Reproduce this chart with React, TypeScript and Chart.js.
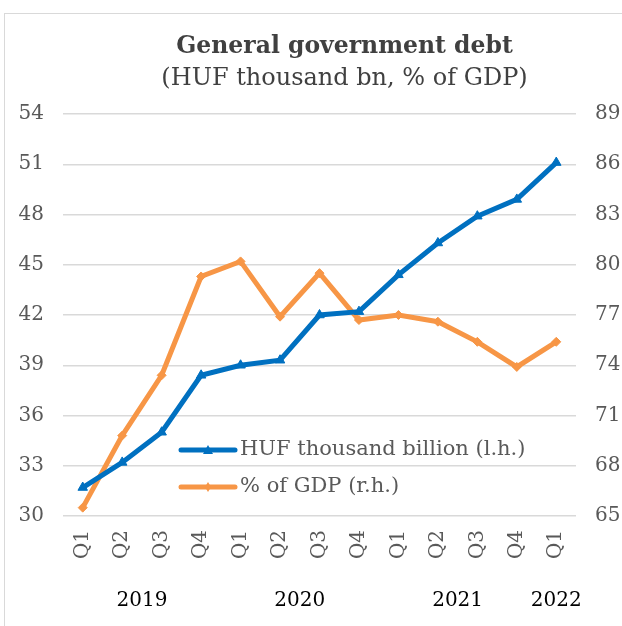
import React, { useEffect, useRef } from "react";
import { Chart, registerables } from "chart.js";

Chart.register(...registerables);

const quarters = ["Q1", "Q2", "Q3", "Q4", "Q1", "Q2", "Q3", "Q4", "Q1", "Q2", "Q3", "Q4", "Q1"];
const years = ["2019", "2020", "2021", "2022"];
const yearSpans = [[0, 3], [4, 7], [8, 11], [12, 12]];
const hufDebt = [31.7, 33.2, 35.0, 38.4, 39.0, 39.3, 42.0, 42.2, 44.4, 46.3, 47.9, 48.9, 51.1];
const gdpShare = [65.5, 69.8, 73.4, 79.3, 80.2, 76.9, 79.5, 76.7, 77.0, 76.6, 75.4, 73.9, 75.4];
const seriesLabels = ["HUF thousand billion (l.h.)", "% of GDP (r.h.)"];
const titleText = "General government debt";
const subtitleText = "(HUF thousand bn, % of GDP)";

const BLUE = "#0070C0";
const ORANGE = "#F79646";
const GRID = "#d9d9d9";
const TICK = "#595959";
const FONT = "'DejaVu Serif', serif";

const overlayPlugin = {
  id: "overlay",
  afterDraw(chart: any) {
    const ctx = chart.ctx;
    const ca = chart.chartArea;
    const xs = chart.scales.x;
    ctx.save();
    const cx = (ca.left + ca.right) / 2 + 25;
    ctx.textAlign = "center";
    ctx.textBaseline = "middle";
    ctx.fillStyle = "#404040";
    ctx.font = "bold 23.5px " + FONT;
    ctx.fillText(titleText, cx, 47);
    ctx.font = "24px " + FONT;
    ctx.fillText(subtitleText, cx, 79);
    ctx.fillStyle = "#000000";
    ctx.font = "20px " + FONT;
    years.forEach((y, i) => {
      const [a, b] = yearSpans[i];
      const x = (xs.getPixelForValue(a) + xs.getPixelForValue(b)) / 2;
      ctx.fillText(y, x, 601);
    });
    ctx.restore();
  },
  afterDatasetsDraw(chart: any) {
    const ctx = chart.ctx;
    const ca = chart.chartArea;
    ctx.save();
    const lx0 = ca.left + 118;
    const lx1 = lx0 + 54;
    const ys = [ca.top + 336, ca.top + 373];
    chart.data.datasets.forEach((ds: any, i: number) => {
      const y = ys[i];
      ctx.strokeStyle = ds.borderColor;
      ctx.lineWidth = 5;
      ctx.lineCap = "round";
      ctx.beginPath();
      ctx.moveTo(lx0, y);
      ctx.lineTo(lx1, y);
      ctx.stroke();
      ctx.fillStyle = ds.borderColor;
      const mx = (lx0 + lx1) / 2;
      ctx.beginPath();
      if (i === 0) {
        ctx.moveTo(mx, y - 5);
        ctx.lineTo(mx + 5, y + 4);
        ctx.lineTo(mx - 5, y + 4);
      } else {
        ctx.moveTo(mx, y - 5);
        ctx.lineTo(mx + 3, y);
        ctx.lineTo(mx, y + 5);
        ctx.lineTo(mx - 3, y);
      }
      ctx.closePath();
      ctx.fill();
      ctx.fillStyle = TICK;
      ctx.font = "21px " + FONT;
      ctx.textAlign = "left";
      ctx.textBaseline = "middle";
      ctx.fillText(ds.label, lx1 + 5, y);
    });
    ctx.restore();
  },
};

export default function App() {
  const ref = useRef<HTMLCanvasElement>(null);
  useEffect(() => {
    document.body.style.margin = "0";
    const chart = new Chart(ref.current!, {
      type: "line",
      data: {
        labels: quarters,
        datasets: [
          {
            label: seriesLabels[0],
            data: hufDebt,
            yAxisID: "y",
            borderColor: BLUE,
            backgroundColor: BLUE,
            borderWidth: 5,
            pointStyle: "triangle",
            pointRadius: 5.5,
            pointHoverRadius: 5.5,
            pointBorderWidth: 1,
            tension: 0,
            order: 1,
          },
          {
            label: seriesLabels[1],
            data: gdpShare,
            yAxisID: "y1",
            borderColor: ORANGE,
            backgroundColor: ORANGE,
            borderWidth: 5,
            pointStyle: "rectRot",
            pointRadius: 4.5,
            pointHoverRadius: 4.5,
            pointBorderWidth: 1,
            tension: 0,
            order: 2,
          },
        ],
      },
      options: {
        responsive: false,
        animation: false,
        layout: { padding: { top: 114, left: 0, right: 0, bottom: 0 } },
        plugins: {
          legend: { display: false },
          title: { display: false },
          tooltip: { enabled: false },
        },
        scales: {
          x: {
            offset: true,
            grid: { display: false },
            border: { display: false },
            ticks: {
              minRotation: 90,
              maxRotation: 90,
              color: TICK,
              font: { family: FONT, size: 20 },
              padding: 6,
            },
            afterFit: (s: any) => {
              s.height = 110;
            },
          },
          y: {
            position: "left",
            min: 30,
            max: 54,
            ticks: {
              stepSize: 3,
              color: TICK,
              font: { family: FONT, size: 20 },
              padding: 19,
            },
            grid: { color: GRID, lineWidth: 1.5, drawTicks: false },
            border: { display: false },
            afterFit: (s: any) => {
              s.width = 63;
            },
          },
          y1: {
            position: "right",
            min: 65,
            max: 89,
            ticks: {
              stepSize: 3,
              color: TICK,
              font: { family: FONT, size: 20 },
              padding: 19,
            },
            grid: { display: false, drawTicks: false },
            border: { display: false },
            afterFit: (s: any) => {
              s.width = 46;
            },
          },
        },
      },
      plugins: [overlayPlugin],
    } as any);
    return () => chart.destroy();
  }, []);
  return (
    <div style={{ position: "relative", width: 622, height: 626, overflow: "hidden", background: "#fff" }}>
      <div
        style={{
          position: "absolute",
          left: 4,
          top: 13,
          width: 700,
          height: 700,
          border: "1px solid #d9d9d9",
          boxSizing: "border-box",
        }}
      />
      <canvas ref={ref} width={622} height={626} style={{ position: "absolute", left: 0, top: 0 }} />
    </div>
  );
}
